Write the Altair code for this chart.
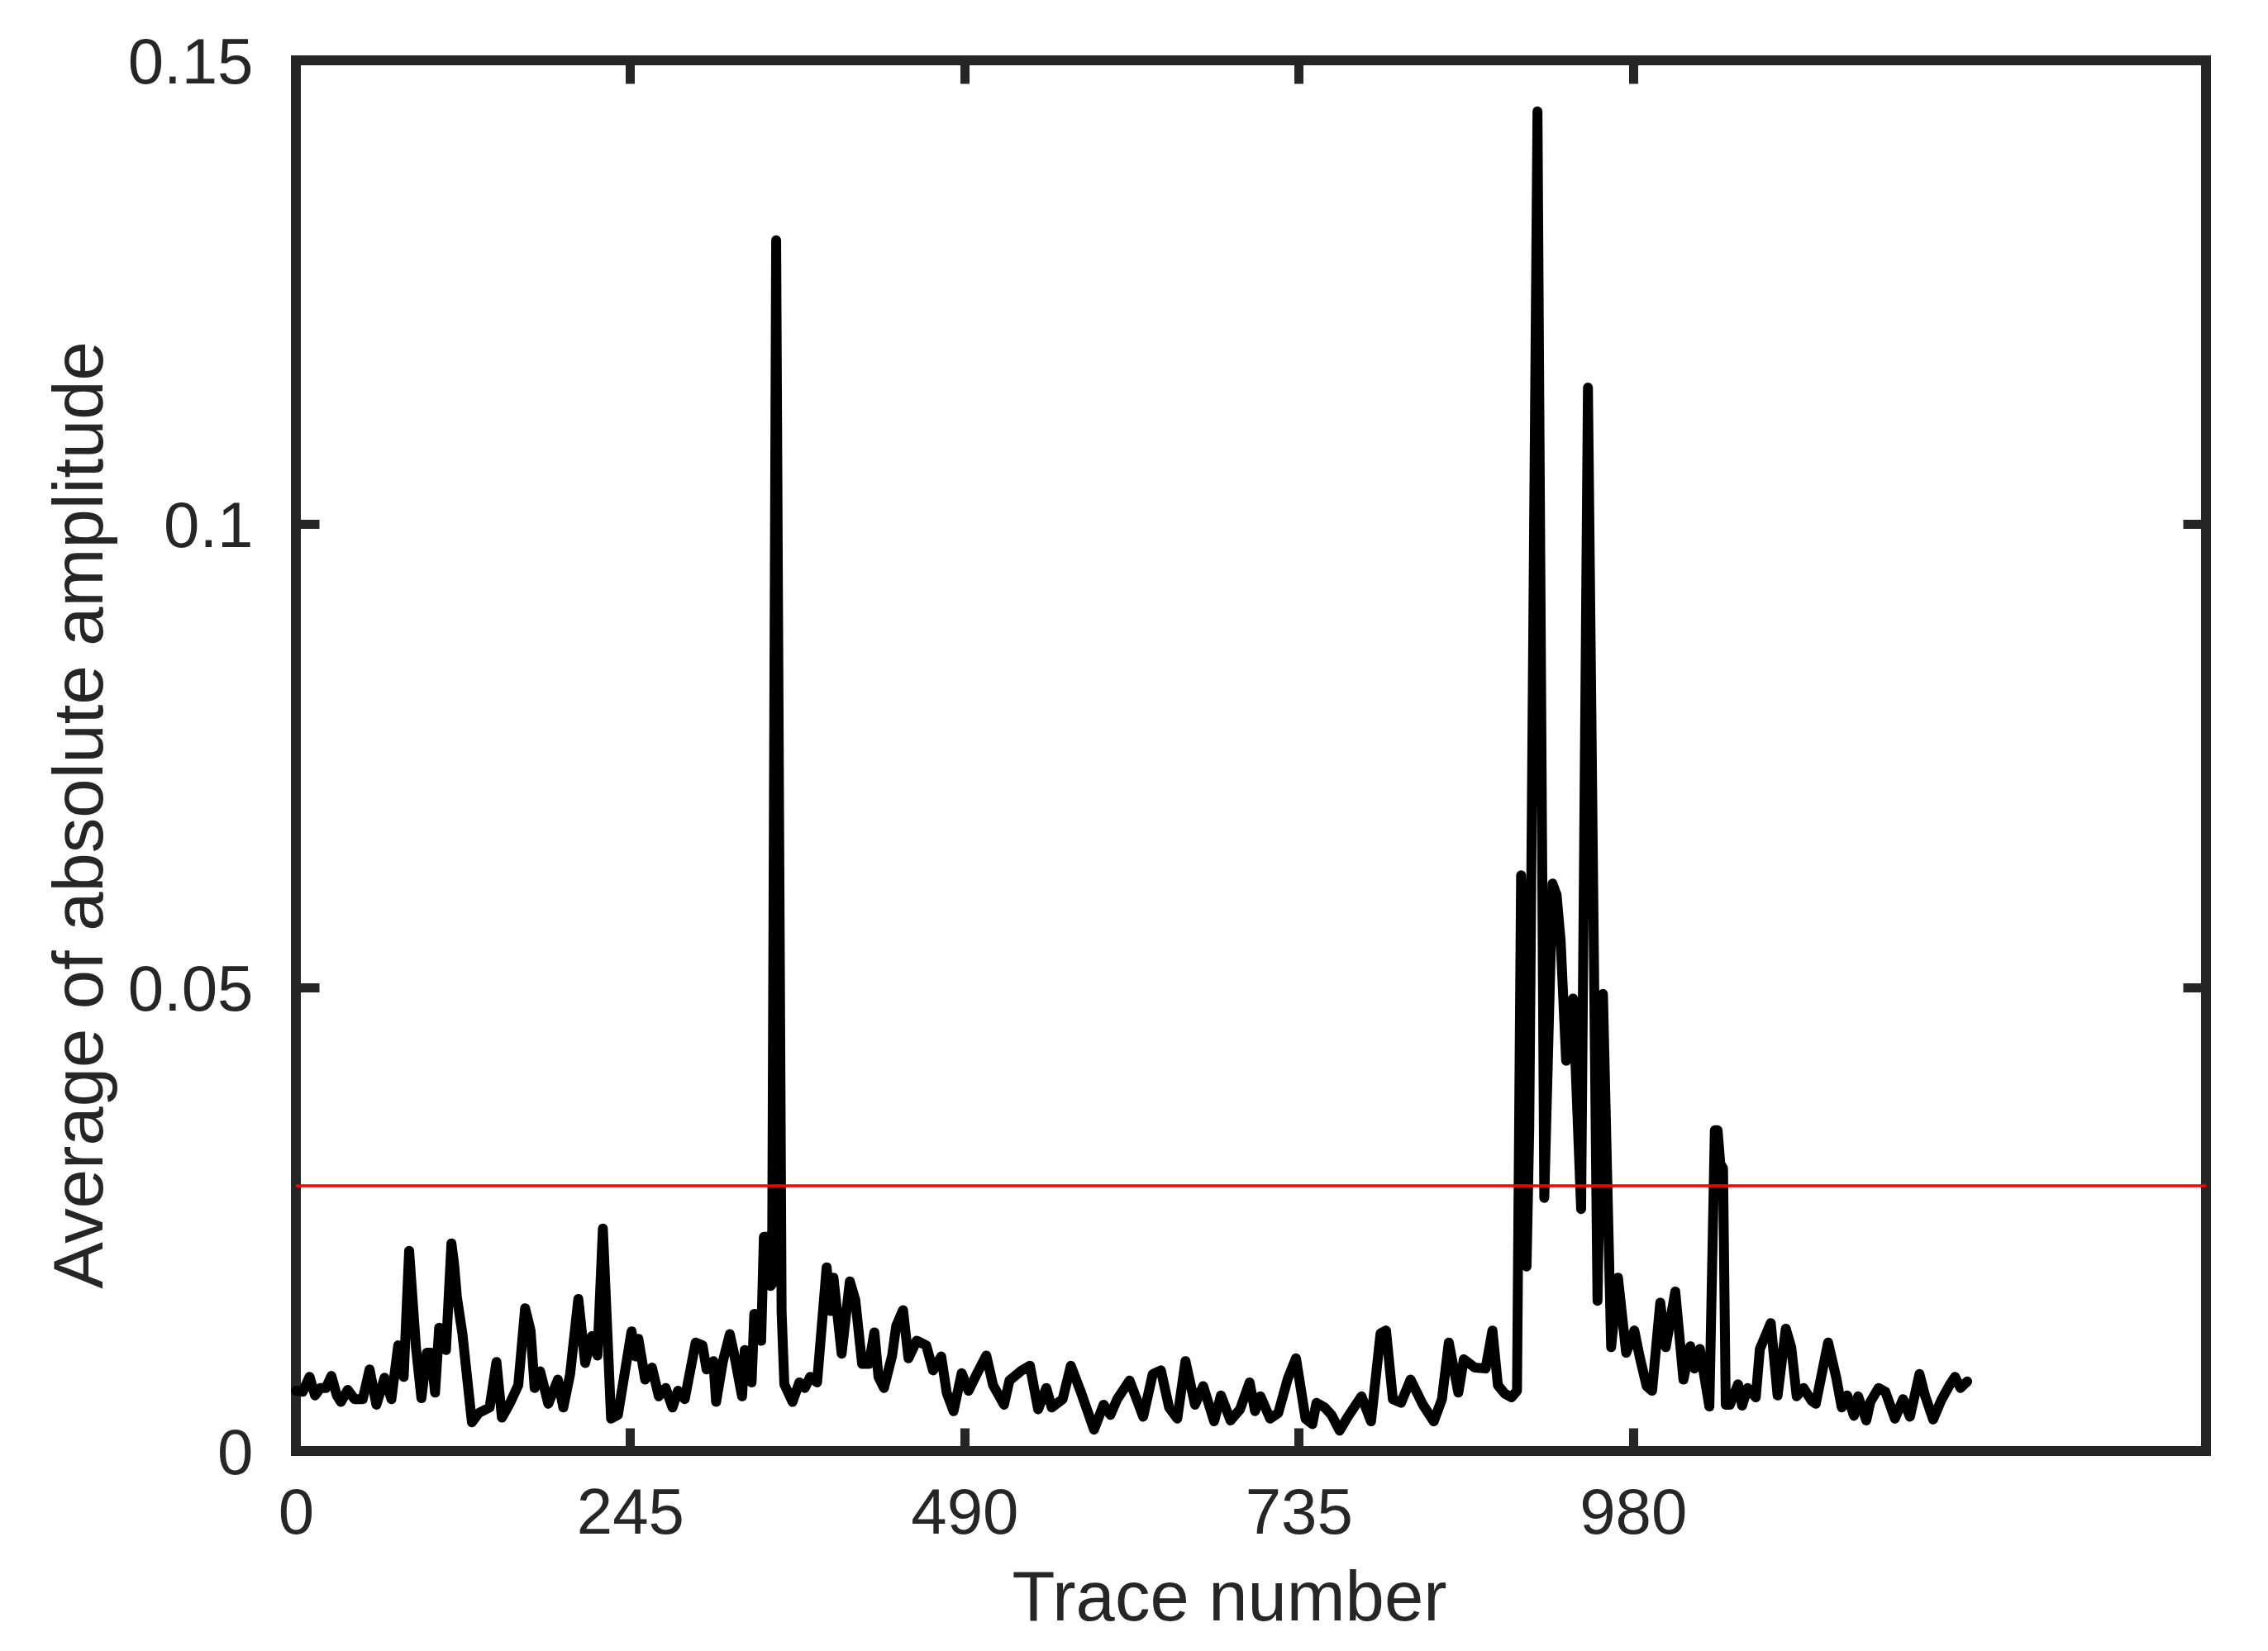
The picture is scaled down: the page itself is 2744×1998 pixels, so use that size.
import altair as alt
import pandas as pd

# ---- data (trace number, average absolute amplitude) ----
traces_a = [0, 5, 10, 14, 18, 22, 26, 30, 33, 38, 43, 49, 54, 59, 65, 70, 75, 79, 83, 88,
            92, 96, 99, 102, 105, 110, 114, 116, 118, 122, 129, 134, 142, 147, 151, 157,
            163, 168, 172, 175, 179, 185, 192, 196, 201, 207, 212, 217, 221, 225, 231, 236]
values_a = [0.0065, 0.0064, 0.0080, 0.0060, 0.0068, 0.0068, 0.0081, 0.0060, 0.0053, 0.0066,
            0.0056, 0.0056, 0.0088, 0.0050, 0.0079, 0.0056, 0.0114, 0.0080, 0.0216, 0.0112,
            0.0057, 0.0106, 0.0106, 0.0063, 0.0133, 0.0109, 0.0224, 0.0201, 0.0166, 0.0127,
            0.0031, 0.0041, 0.0047, 0.0096, 0.0036, 0.0052, 0.0071, 0.0154, 0.0130, 0.0068,
            0.0086, 0.0051, 0.0077, 0.0047, 0.0083, 0.0164, 0.0095, 0.0124, 0.0103, 0.0240,
            0.0035, 0.0039]

traces_b = [246, 249, 251, 256, 261, 266, 271, 276, 280, 285, 293, 298, 301, 306, 308, 313,
            318, 321, 327, 329, 334, 336, 341, 343, 346, 348, 349, 352, 356, 358, 364, 369,
            373, 377, 382, 389, 392, 394, 400, 406, 410, 415, 420, 424, 427, 431, 437, 440,
            445, 449, 455, 462, 467, 473, 477, 482, 488]
values_b = [0.0129, 0.0102, 0.0121, 0.0077, 0.0090, 0.0059, 0.0068, 0.0047, 0.0065, 0.0056,
            0.0117, 0.0114, 0.0088, 0.0097, 0.0053, 0.0097, 0.0126, 0.0106, 0.0059, 0.0109,
            0.0074, 0.0148, 0.0119, 0.0231, 0.0231, 0.0178, 0.0180, 0.1306, 0.0150, 0.0072,
            0.0053, 0.0074, 0.0068, 0.0080, 0.0074, 0.0198, 0.0151, 0.0187, 0.0105, 0.0183,
            0.0163, 0.0094, 0.0094, 0.0128, 0.0080, 0.0068, 0.0103, 0.0135, 0.0152, 0.0100,
            0.0119, 0.0114, 0.0087, 0.0102, 0.0063, 0.0043, 0.0084]

traces_c = [493, 499, 506, 511, 519, 523, 532, 538, 544, 550, 554, 562, 568, 575, 585, 592,
            597, 602, 611, 617, 621, 628, 634, 640, 646, 652, 659, 665, 673, 678, 685, 692,
            699, 703, 707, 714, 720, 727]
values_c = [0.0065, 0.0083, 0.0103, 0.0071, 0.0050, 0.0076, 0.0087, 0.0092, 0.0045, 0.0068,
            0.0047, 0.0056, 0.0092, 0.0065, 0.0023, 0.0050, 0.0039, 0.0056, 0.0076, 0.0053,
            0.0037, 0.0083, 0.0087, 0.0047, 0.0035, 0.0097, 0.0050, 0.0070, 0.0032, 0.0060,
            0.0033, 0.0045, 0.0074, 0.0043, 0.0059, 0.0035, 0.0041, 0.0078]

traces_d = [733, 740, 745, 748, 754, 759, 765, 771, 781, 788, 795, 799, 804, 810, 817, 826,
            834, 840, 845, 852, 856, 864, 872, 877, 881, 886, 891]
values_d = [0.0100, 0.0035, 0.0029, 0.0052, 0.0047, 0.0039, 0.0022, 0.0037, 0.0059, 0.0032,
            0.0127, 0.0130, 0.0056, 0.0052, 0.0077, 0.0050, 0.0032, 0.0056, 0.0117, 0.0063,
            0.0099, 0.0090, 0.0089, 0.0130, 0.0071, 0.0062, 0.0058]

traces_e = [895, 898, 900, 902, 904, 910, 915, 921, 924, 927, 931, 936, 942, 947, 954, 958,
            964, 969, 975, 981, 985, 990, 994]
values_e = [0.0065, 0.0621, 0.0545, 0.0199, 0.0350, 0.1445, 0.0273, 0.0612, 0.0600, 0.0550,
            0.0421, 0.0488, 0.0261, 0.1147, 0.0162, 0.0493, 0.0112, 0.0187, 0.0106, 0.0130,
            0.0101, 0.0070, 0.0065]

traces_f = [1000, 1004, 1011, 1017, 1022, 1025, 1029, 1036, 1040, 1042, 1044, 1046, 1048,
            1051, 1057, 1060, 1064, 1070, 1073, 1081, 1086, 1092, 1096, 1100, 1105, 1111,
            1114, 1123, 1129, 1133, 1137, 1142, 1145, 1151, 1154, 1160, 1165, 1172, 1178,
            1183, 1190, 1194, 1200, 1206, 1212, 1216, 1220, 1225]
values_f = [0.0160, 0.0112, 0.0172, 0.0077, 0.0113, 0.0089, 0.0110, 0.0048, 0.0346, 0.0346,
            0.0310, 0.0305, 0.0050, 0.0050, 0.0072, 0.0049, 0.0068, 0.0058, 0.0110, 0.0138,
            0.0060, 0.0132, 0.0112, 0.0059, 0.0068, 0.0054, 0.0051, 0.0117, 0.0079, 0.0047,
            0.0060, 0.0038, 0.0059, 0.0033, 0.0053, 0.0068, 0.0064, 0.0035, 0.0056, 0.0037,
            0.0083, 0.0060, 0.0034, 0.0055, 0.0071, 0.0080, 0.0068, 0.0075]

X_TICKS = [0, 245, 490, 735, 980]
Y_TICKS = [0, 0.05, 0.1, 0.15]
X_MAX = 1400
Y_MAX = 0.15
THRESHOLD = 0.0286

trace = traces_a + traces_b + traces_c + traces_d + traces_e + traces_f
amp = values_a + values_b + values_c + values_d + values_e + values_f
df = pd.DataFrame({"trace": trace, "amp": amp})
thr_df = pd.DataFrame({"amp": [THRESHOLD]})

# ---- styling ----
FONT = "Liberation Sans"
INK = "#262626"
TICK_LEN = 28
TICK_W = 11

xs = alt.Scale(domain=[0, X_MAX], nice=False, zero=False)
ys = alt.Scale(domain=[0, Y_MAX], nice=False, zero=False)

x_axis = alt.Axis(
    values=X_TICKS, format="d", orient="bottom", offset=-TICK_LEN,
    tickSize=TICK_LEN, tickWidth=TICK_W, tickColor=INK, domain=False, grid=False,
    labelFont=FONT, labelFontSize=78, labelColor=INK, labelPadding=37,
    labelFlush=False, labelBaseline="top", labelAlign="center",
    title="Trace number", titleFont=FONT, titleFontSize=85, titleFontWeight="normal",
    titleColor=INK, titleX=1129, titleY=232, titleAlign="center",
    titleBaseline="alphabetic",
)
y_axis = alt.Axis(
    values=Y_TICKS, format=".2~f", orient="left", offset=-TICK_LEN,
    tickSize=TICK_LEN, tickWidth=TICK_W, tickColor=INK, domain=False, grid=False,
    labelFont=FONT, labelFontSize=78, labelColor=INK, labelPadding=52,
    labelFlush=False, labelBaseline="middle", labelAlign="right", labelOffset=4,
    title="Average of absolute amplitude", titleFont=FONT, titleFontSize=85,
    titleFontWeight="normal", titleColor=INK, titleAngle=270, titleX=-263,
    titleY=913, titleAlign="center", titleBaseline="alphabetic",
)
x_top = alt.Axis(
    values=X_TICKS, orient="top", offset=-TICK_LEN, tickSize=TICK_LEN,
    tickWidth=TICK_W, tickColor=INK, domain=False, grid=False, labels=False, title=None,
)
y_right = alt.Axis(
    values=Y_TICKS, orient="right", offset=-TICK_LEN, tickSize=TICK_LEN,
    tickWidth=TICK_W, tickColor=INK, domain=False, grid=False, labels=False, title=None,
)

line = alt.Chart(df).mark_line(
    color="#000000", strokeWidth=12, strokeJoin="round", strokeCap="round"
).encode(
    x=alt.X("trace:Q", scale=xs, axis=x_axis),
    y=alt.Y("amp:Q", scale=ys, axis=y_axis),
)

thr = alt.Chart(thr_df).mark_rule(color="#ff0000", strokeWidth=3.5).encode(
    y=alt.Y("amp:Q", scale=ys, axis=None)
)

mirror = alt.Chart(df).mark_line(opacity=0).encode(
    x=alt.X("trace:Q", scale=xs, axis=x_top),
    y=alt.Y("amp:Q", scale=ys, axis=y_right),
)

chart = (
    alt.layer(line, thr, mirror)
    .resolve_axis(x="independent", y="independent")
    .properties(
        width=2311,
        height=1683,
        autosize=alt.AutoSizeParams(type="none"),
        padding={"left": 350, "top": 65, "right": 60, "bottom": 230},
        background="white",
    )
    .configure_view(stroke=INK, strokeWidth=12)
)

chart.save("out.html", embed_options={"renderer": "svg", "actions": False})
